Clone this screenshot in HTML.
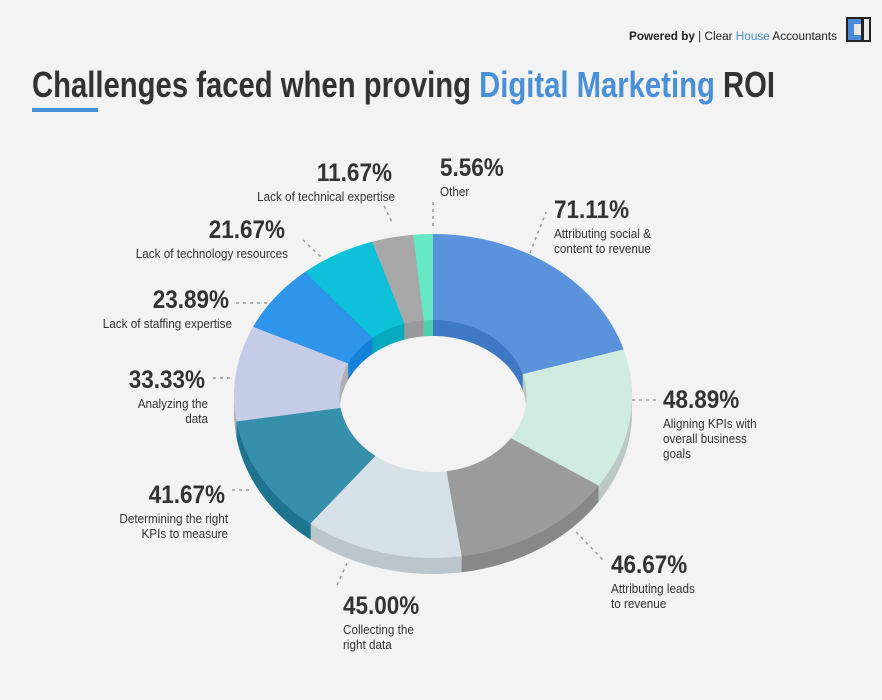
<!DOCTYPE html>
<html><head><meta charset="utf-8"><style>
html,body{margin:0;padding:0;background:#f3f3f3;}
svg{display:block;font-family:"Liberation Sans Narrow","Liberation Sans",sans-serif;}
</style></head><body>
<svg id="chart" width="882" height="700" viewBox="0 0 882 700">
<rect width="882" height="700" fill="#f3f3f3"/>
<g>
<text x="629" y="40" font-family="Liberation Sans, sans-serif" font-size="11.5" fill="#222" textLength="208" lengthAdjust="spacingAndGlyphs"><tspan font-weight="bold">Powered by</tspan> | Clear <tspan fill="#4a90d9">House</tspan> Accountants</text>
<rect x="846" y="17" width="25" height="25" fill="#222"/>
<rect x="848" y="19" width="21" height="21" fill="#e8e8e8"/>
<path d="M848 19 H861 V24 H854 V35 H861 V40 H848 Z" fill="#4a8ad8"/>
<rect x="861" y="19" width="3" height="21" fill="#222"/>
</g>
<text x="32" y="97" font-size="36" font-weight="bold" fill="#333" textLength="743" lengthAdjust="spacingAndGlyphs">Challenges faced when proving <tspan fill="#4a90d9">Digital Marketing</tspan> ROI</text>
<rect x="32" y="108" width="66" height="4" fill="#4a90d9"/>
<g id="slices"></g>
<g id="labels"></g>
</svg>
<script>
const categories=["Attributing social & content to revenue","Aligning KPIs with overall business goals","Attributing leads to revenue","Collecting the right data","Determining the right KPIs to measure","Analyzing the data","Lack of staffing expertise","Lack of technology resources","Lack of technical expertise","Other"];
const values=[71.11,48.89,46.67,45.00,41.67,33.33,23.89,21.67,11.67,5.56];
const colors=["#5a92dc","#d0ece0","#9b9b9b","#d5e1e6","#368fab","#c5cce8","#2e95ea","#0dc2d8","#a8a8a8","#66e8c4"];
const sideColors=["#3f79c4","#bcc8c6","#888888","#bcc6ca","#1f7590","#b0b0b0","#1582d8","#04a9bf","#999999","#4fd0ac"];
const descLines=[["Attributing social &","content to revenue"],["Aligning KPIs with","overall business","goals"],["Attributing leads","to revenue"],["Collecting the","right data"],["Determining the right","KPIs to measure"],["Analyzing the","data"],["Lack of staffing expertise"],["Lack of technology resources"],["Lack of technical expertise"],["Other"]];
const NS="http://www.w3.org/2000/svg";
const cx=433,cy=396,rx=199,ry=162,irx=93.5,iry=76,depth=16;
const total=values.reduce((a,b)=>a+b,0);
function pt(t,a,b,dy){return [cx+a*Math.sin(t),cy+dy-b*Math.cos(t)];}
function slicePath(t0,t1,dy){
  const n=Math.max(4,Math.ceil((t1-t0)/0.03));let d="";
  for(let i=0;i<=n;i++){const p=pt(t0+(t1-t0)*i/n,rx,ry,dy);d+=(i?"L":"M")+p[0].toFixed(2)+" "+p[1].toFixed(2);}
  for(let i=n;i>=0;i--){const p=pt(t0+(t1-t0)*i/n,irx,iry,dy);d+="L"+p[0].toFixed(2)+" "+p[1].toFixed(2);}
  return d+"Z";}
const g=document.getElementById("slices");
const angles=[];let acc=0;
values.forEach(v=>{const t0=acc/total*2*Math.PI;acc+=v;angles.push([t0,acc/total*2*Math.PI]);});
for(let dy=depth;dy>=1;dy--){
  angles.forEach((a,i)=>{const p=document.createElementNS(NS,"path");
    p.setAttribute("d",slicePath(a[0],a[1],dy));p.setAttribute("fill",sideColors[i]);
    
    
    g.appendChild(p);});
}
angles.forEach((a,i)=>{const p=document.createElementNS(NS,"path");
  p.setAttribute("d",slicePath(a[0],a[1],0));p.setAttribute("fill",colors[i]);
  
  
  g.appendChild(p);});
const lay=[[554,218,"start",530,253,546,212],[663,408,"start",632,400,657,400],[611,573,"start",576,532,605,562],[343,614,"start",337,585,347,563],[225,503,"end",232,490,250,490],[205,388,"end",213,378,232,378],[229,308,"end",236,303,268,303],[285,238,"end",303,240,322,258],[392,181,"end",384,206,392,222],[440,176,"start",433,202,433,230]];
const L=document.getElementById("labels");
function squeeze(t,f){const w=t.getComputedTextLength();t.setAttribute("textLength",(w*f).toFixed(1));t.setAttribute("lengthAdjust","spacingAndGlyphs");}
values.forEach((v,i)=>{const [x,y,an,x1,y1,x2,y2]=lay[i];
  const ln=document.createElementNS(NS,"line");
  ln.setAttribute("x1",x1);ln.setAttribute("y1",y1);ln.setAttribute("x2",x2);ln.setAttribute("y2",y2);
  ln.setAttribute("stroke","#999");ln.setAttribute("stroke-width","1.5");ln.setAttribute("stroke-dasharray","3 4");
  
  
  L.appendChild(ln);
  const t=document.createElementNS(NS,"text");
  t.setAttribute("x",x);t.setAttribute("y",y);t.setAttribute("text-anchor",an);
  t.setAttribute("font-size","25");t.setAttribute("font-weight","bold");t.setAttribute("fill","#333");
  t.textContent=v.toFixed(2)+"%";
  
  
  L.appendChild(t);squeeze(t,0.9);
  descLines[i].forEach((s,j)=>{const d=document.createElementNS(NS,"text");
    d.setAttribute("x",an==="end"?x+3:x);d.setAttribute("y",y+20+j*15);d.setAttribute("text-anchor",an);
    d.setAttribute("font-size","13");d.setAttribute("fill","#333");d.textContent=s;
    
    
    L.appendChild(d);squeeze(d,0.9);});
});
</script>
</body></html>
